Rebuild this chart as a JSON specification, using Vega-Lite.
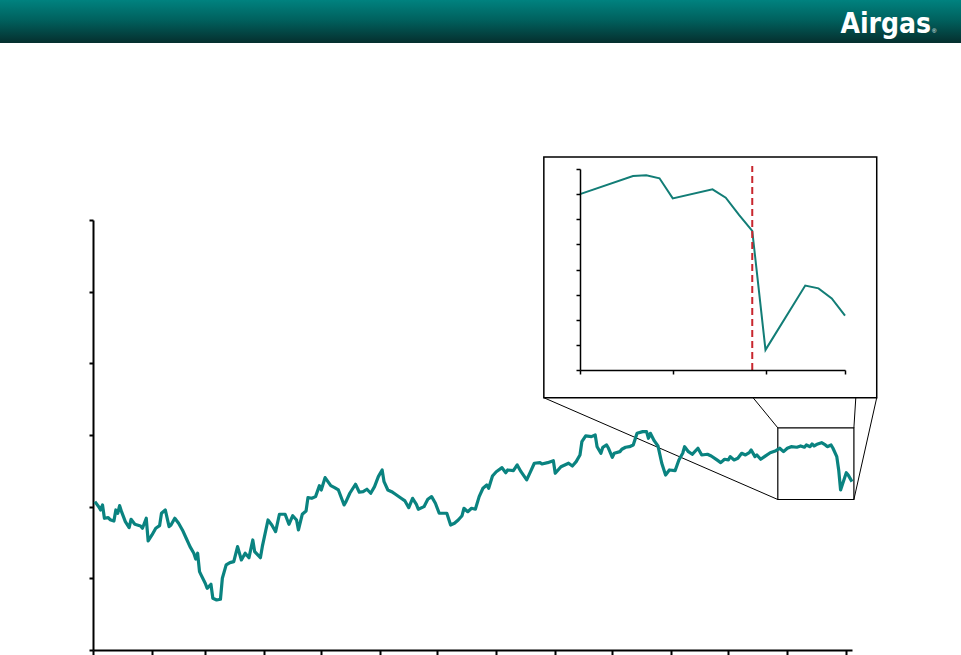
{
  "$schema": "https://vega.github.io/schema/vega-lite/v6.json",
  "autosize": {"type": "none"},
  "width": 759,
  "height": 430,
  "padding": {"left": 93, "top": 220, "right": 109, "bottom": 5},
  "background": "white",
  "config": {
    "view": {"stroke": null},
    "axis": {"grid": false, "labels": false, "title": null, "domainColor": "black", "tickColor": "black"}
  },
  "datasets": {
    "price": [
      {"date": "2009-01-02", "close": 40.70}, {"date": "2009-01-04", "close": 40.00}, {"date": "2009-01-05", "close": 39.54},
      {"date": "2009-01-06", "close": 40.24}, {"date": "2009-01-07", "close": 38.38}, {"date": "2009-01-09", "close": 38.47},
      {"date": "2009-01-10", "close": 38.19}, {"date": "2009-01-12", "close": 38.00}, {"date": "2009-01-13", "close": 39.54},
      {"date": "2009-01-14", "close": 39.08}, {"date": "2009-01-15", "close": 40.14}, {"date": "2009-01-16", "close": 39.30},
      {"date": "2009-01-18", "close": 37.91}, {"date": "2009-01-20", "close": 37.07}, {"date": "2009-01-21", "close": 38.24},
      {"date": "2009-01-23", "close": 37.54}, {"date": "2009-01-26", "close": 37.31}, {"date": "2009-01-27", "close": 36.99},
      {"date": "2009-01-29", "close": 38.38}, {"date": "2009-01-30", "close": 35.21}, {"date": "2009-02-01", "close": 36.05},
      {"date": "2009-02-03", "close": 36.99}, {"date": "2009-02-05", "close": 37.35}, {"date": "2009-02-06", "close": 39.08},
      {"date": "2009-02-08", "close": 39.54}, {"date": "2009-02-10", "close": 37.21}, {"date": "2009-02-11", "close": 37.45},
      {"date": "2009-02-13", "close": 38.38}, {"date": "2009-02-15", "close": 37.68}, {"date": "2009-02-17", "close": 36.75},
      {"date": "2009-02-19", "close": 35.59}, {"date": "2009-02-21", "close": 34.42}, {"date": "2009-02-23", "close": 33.50},
      {"date": "2009-02-24", "close": 32.70}, {"date": "2009-02-25", "close": 33.50}, {"date": "2009-02-26", "close": 30.93},
      {"date": "2009-02-27", "close": 30.37}, {"date": "2009-03-01", "close": 29.31}, {"date": "2009-03-02", "close": 28.61},
      {"date": "2009-03-04", "close": 29.17}, {"date": "2009-03-05", "close": 27.22}, {"date": "2009-03-07", "close": 26.98},
      {"date": "2009-03-09", "close": 27.08}, {"date": "2009-03-10", "close": 30.01}, {"date": "2009-03-12", "close": 31.87},
      {"date": "2009-03-14", "close": 32.19}, {"date": "2009-03-16", "close": 32.33}, {"date": "2009-03-18", "close": 34.42},
      {"date": "2009-03-20", "close": 32.56}, {"date": "2009-03-22", "close": 33.50}, {"date": "2009-03-24", "close": 32.88},
      {"date": "2009-03-26", "close": 35.35}, {"date": "2009-03-27", "close": 33.72}, {"date": "2009-03-30", "close": 32.88},
      {"date": "2009-03-31", "close": 34.42}, {"date": "2009-04-03", "close": 38.14}, {"date": "2009-04-05", "close": 37.45},
      {"date": "2009-04-07", "close": 36.51}, {"date": "2009-04-09", "close": 38.94}, {"date": "2009-04-12", "close": 38.94},
      {"date": "2009-04-14", "close": 37.54}, {"date": "2009-04-16", "close": 38.74}, {"date": "2009-04-18", "close": 38.14},
      {"date": "2009-04-19", "close": 36.75}, {"date": "2009-04-21", "close": 38.94}, {"date": "2009-04-23", "close": 39.40},
      {"date": "2009-04-24", "close": 41.26}, {"date": "2009-04-26", "close": 41.17}, {"date": "2009-04-28", "close": 41.40},
      {"date": "2009-04-30", "close": 42.93}, {"date": "2009-05-01", "close": 42.33}, {"date": "2009-05-03", "close": 44.05},
      {"date": "2009-05-06", "close": 42.93}, {"date": "2009-05-08", "close": 42.65}, {"date": "2009-05-10", "close": 42.33},
      {"date": "2009-05-13", "close": 40.24}, {"date": "2009-05-14", "close": 40.70}, {"date": "2009-05-16", "close": 41.87},
      {"date": "2009-05-19", "close": 43.13}, {"date": "2009-05-21", "close": 42.01}, {"date": "2009-05-23", "close": 42.09},
      {"date": "2009-05-25", "close": 42.43}, {"date": "2009-05-27", "close": 41.87}, {"date": "2009-05-29", "close": 42.79},
      {"date": "2009-05-31", "close": 44.19}, {"date": "2009-06-02", "close": 45.12}, {"date": "2009-06-03", "close": 43.49},
      {"date": "2009-06-05", "close": 42.33}, {"date": "2009-06-07", "close": 42.09}, {"date": "2009-06-09", "close": 41.73},
      {"date": "2009-06-12", "close": 41.17}, {"date": "2009-06-14", "close": 40.80}, {"date": "2009-06-16", "close": 39.86},
      {"date": "2009-06-18", "close": 41.17}, {"date": "2009-06-20", "close": 40.33}, {"date": "2009-06-21", "close": 39.64},
      {"date": "2009-06-24", "close": 40.00}, {"date": "2009-06-26", "close": 41.03}, {"date": "2009-06-28", "close": 41.40},
      {"date": "2009-06-30", "close": 40.47}, {"date": "2009-07-02", "close": 39.08}, {"date": "2009-07-06", "close": 39.08},
      {"date": "2009-07-08", "close": 37.44}, {"date": "2009-07-10", "close": 37.68}, {"date": "2009-07-12", "close": 38.14},
      {"date": "2009-07-14", "close": 38.74}, {"date": "2009-07-15", "close": 39.77}, {"date": "2009-07-17", "close": 39.30},
      {"date": "2009-07-19", "close": 39.77}, {"date": "2009-07-21", "close": 39.64}, {"date": "2009-07-23", "close": 41.40},
      {"date": "2009-07-25", "close": 42.57}, {"date": "2009-07-27", "close": 43.03}, {"date": "2009-07-28", "close": 42.57},
      {"date": "2009-07-30", "close": 44.28}, {"date": "2009-08-01", "close": 44.88}, {"date": "2009-08-04", "close": 45.44},
      {"date": "2009-08-06", "close": 44.74}, {"date": "2009-08-07", "close": 45.12}, {"date": "2009-08-10", "close": 45.02},
      {"date": "2009-08-12", "close": 45.82}, {"date": "2009-08-14", "close": 44.88}, {"date": "2009-08-17", "close": 43.73},
      {"date": "2009-08-19", "close": 44.88}, {"date": "2009-08-21", "close": 46.06}, {"date": "2009-08-24", "close": 46.14},
      {"date": "2009-08-25", "close": 45.96}, {"date": "2009-08-28", "close": 46.14}, {"date": "2009-08-31", "close": 46.42},
      {"date": "2009-09-01", "close": 44.66}, {"date": "2009-09-04", "close": 45.58}, {"date": "2009-09-06", "close": 45.82},
      {"date": "2009-09-08", "close": 46.06}, {"date": "2009-09-10", "close": 45.68}, {"date": "2009-09-12", "close": 46.28},
      {"date": "2009-09-14", "close": 47.21}, {"date": "2009-09-15", "close": 49.07}, {"date": "2009-09-17", "close": 49.87},
      {"date": "2009-09-20", "close": 49.77}, {"date": "2009-09-22", "close": 50.00}, {"date": "2009-09-23", "close": 48.37},
      {"date": "2009-09-25", "close": 47.45}, {"date": "2009-09-26", "close": 48.29}, {"date": "2009-09-28", "close": 48.61},
      {"date": "2009-09-29", "close": 48.15}, {"date": "2009-10-01", "close": 46.89}, {"date": "2009-10-02", "close": 47.45},
      {"date": "2009-10-05", "close": 47.68}, {"date": "2009-10-06", "close": 48.01}, {"date": "2009-10-08", "close": 48.29},
      {"date": "2009-10-10", "close": 48.37}, {"date": "2009-10-12", "close": 48.61}, {"date": "2009-10-14", "close": 50.24},
      {"date": "2009-10-17", "close": 50.47}, {"date": "2009-10-19", "close": 50.47}, {"date": "2009-10-20", "close": 49.54},
      {"date": "2009-10-21", "close": 50.24}, {"date": "2009-10-23", "close": 49.21}, {"date": "2009-10-25", "close": 48.47},
      {"date": "2009-10-27", "close": 46.06}, {"date": "2009-10-29", "close": 44.42}, {"date": "2009-10-31", "close": 45.12},
      {"date": "2009-11-03", "close": 45.02}, {"date": "2009-11-05", "close": 46.52}, {"date": "2009-11-07", "close": 47.45},
      {"date": "2009-11-08", "close": 48.37}, {"date": "2009-11-10", "close": 47.67}, {"date": "2009-11-12", "close": 47.31},
      {"date": "2009-11-15", "close": 48.15}, {"date": "2009-11-17", "close": 47.21}, {"date": "2009-11-20", "close": 47.31},
      {"date": "2009-11-22", "close": 47.07}, {"date": "2009-11-25", "close": 46.52}, {"date": "2009-11-27", "close": 46.14},
      {"date": "2009-11-29", "close": 46.61}, {"date": "2009-12-01", "close": 46.52}, {"date": "2009-12-02", "close": 46.98},
      {"date": "2009-12-04", "close": 46.52}, {"date": "2009-12-06", "close": 46.75}, {"date": "2009-12-08", "close": 47.45},
      {"date": "2009-12-10", "close": 47.21}, {"date": "2009-12-12", "close": 47.53}, {"date": "2009-12-13", "close": 47.91},
      {"date": "2009-12-15", "close": 46.98}, {"date": "2009-12-16", "close": 47.21}, {"date": "2009-12-18", "close": 46.61},
      {"date": "2009-12-20", "close": 46.98}, {"date": "2009-12-23", "close": 47.53}, {"date": "2009-12-26", "close": 47.81},
      {"date": "2009-12-28", "close": 48.15}, {"date": "2009-12-30", "close": 47.68}, {"date": "2010-01-01", "close": 48.15},
      {"date": "2010-01-03", "close": 48.37}, {"date": "2010-01-06", "close": 48.29}, {"date": "2010-01-08", "close": 48.47},
      {"date": "2010-01-10", "close": 48.29}, {"date": "2010-01-11", "close": 48.61}, {"date": "2010-01-13", "close": 48.37},
      {"date": "2010-01-14", "close": 48.75}, {"date": "2010-01-15", "close": 48.47}, {"date": "2010-01-17", "close": 48.75},
      {"date": "2010-01-19", "close": 48.93}, {"date": "2010-01-21", "close": 48.61}, {"date": "2010-01-22", "close": 48.37},
      {"date": "2010-01-24", "close": 48.61}, {"date": "2010-01-25", "close": 48.15}, {"date": "2010-01-27", "close": 46.98},
      {"date": "2010-01-28", "close": 45.12}, {"date": "2010-01-29", "close": 42.33}, {"date": "2010-02-01", "close": 44.74},
      {"date": "2010-02-02", "close": 44.42}, {"date": "2010-02-03", "close": 43.95}, {"date": "2010-02-04", "close": 43.49}
    ],
    "recent": [
      {"date": "2010-01-15", "close": 48.00}, {"date": "2010-01-19", "close": 48.72}, {"date": "2010-01-20", "close": 48.75},
      {"date": "2010-01-21", "close": 48.63}, {"date": "2010-01-22", "close": 47.83}, {"date": "2010-01-25", "close": 48.19},
      {"date": "2010-01-26", "close": 47.86}, {"date": "2010-01-27", "close": 47.17}, {"date": "2010-01-28", "close": 46.54},
      {"date": "2010-01-29", "close": 41.80}, {"date": "2010-02-01", "close": 44.36}, {"date": "2010-02-02", "close": 44.25},
      {"date": "2010-02-03", "close": 43.85}, {"date": "2010-02-04", "close": 43.16}
    ],
    "event": [{"date": "2010-01-28"}],
    "zoomWindow": [{"start": "2009-12-27", "end": "2010-02-05", "low": 41, "high": 51}],
    "insetFrame": [{"start": "2009-08-26", "end": "2010-02-17", "low": 55.2, "high": 88.8}],
    "callout": [
      {"segment": "a", "date": "2009-08-26", "close": 55.2}, {"segment": "a", "date": "2009-12-27", "close": 41},
      {"segment": "b", "date": "2010-02-17", "close": 55.2}, {"segment": "b", "date": "2010-02-05", "close": 41},
      {"segment": "c", "date": "2009-12-14", "close": 55.2}, {"segment": "c", "date": "2009-12-27", "close": 51},
      {"segment": "d", "date": "2010-02-06", "close": 55.2}, {"segment": "d", "date": "2010-02-05", "close": 51}
    ],
    "banner": [{"brand": "Airgas", "mark": "®"}]
  },
  "layer": [
    {
      "data": {"name": "banner"},
      "layer": [
        {
          "mark": {
            "type": "rect",
            "fill": {
              "gradient": "linear", "x1": 0, "y1": 0, "x2": 0, "y2": 1,
              "stops": [
                {"offset": 0, "color": "#00827f"},
                {"offset": 0.45, "color": "#00625f"},
                {"offset": 1, "color": "#052f2e"}
              ]
            }
          },
          "encoding": {
            "x": {"datum": 0, "type": "quantitative", "scale": {"domain": [0, 1], "range": [-93, 868]}, "axis": null},
            "x2": {"datum": 1},
            "y": {"datum": 0, "type": "quantitative", "scale": {"domain": [0, 1], "range": [-220, -177]}, "axis": null},
            "y2": {"datum": 1}
          }
        },
        {
          "mark": {"type": "text", "align": "right", "baseline": "alphabetic", "color": "white", "fontSize": 28, "fontWeight": "bold", "font": "Liberation Sans Narrow, DejaVu Sans Condensed, sans-serif"},
          "encoding": {
            "x": {"datum": 0.9688, "type": "quantitative"},
            "y": {"datum": 0.767, "type": "quantitative"},
            "text": {"field": "brand"}
          }
        },
        {
          "mark": {"type": "text", "align": "left", "baseline": "alphabetic", "color": "white", "fontSize": 6, "font": "Liberation Sans, sans-serif"},
          "encoding": {
            "x": {"datum": 0.9698, "type": "quantitative"},
            "y": {"datum": 0.767, "type": "quantitative"},
            "text": {"field": "mark"}
          }
        }
      ]
    },
    {
      "layer": [
        {
          "data": {"name": "insetFrame"},
          "mark": {"type": "rect", "fill": null, "stroke": "black", "strokeWidth": 1.5},
          "encoding": {
            "x": {"field": "start", "type": "temporal", "scale": {"type": "utc", "domain": [{"year": 2009, "month": 1, "date": 1, "utc": true}, {"year": 2010, "month": 2, "date": 4, "utc": true}]}},
            "x2": {"field": "end"},
            "y": {"field": "low", "type": "quantitative", "scale": {"domain": [20, 80]}},
            "y2": {"field": "high"}
          }
        },
        {
          "data": {"name": "callout"},
          "mark": {"type": "line", "color": "black", "strokeWidth": 1},
          "encoding": {
            "x": {"field": "date", "type": "temporal"},
            "y": {"field": "close", "type": "quantitative"},
            "detail": {"field": "segment"}
          }
        },
        {
          "data": {"name": "zoomWindow"},
          "mark": {"type": "rect", "fill": null, "stroke": "black", "strokeWidth": 1.2},
          "encoding": {
            "x": {"field": "start", "type": "temporal"},
            "x2": {"field": "end"},
            "y": {"field": "low", "type": "quantitative"},
            "y2": {"field": "high"}
          }
        },
        {
          "data": {"name": "price"},
          "mark": {"type": "line", "color": "#0a8380", "strokeWidth": 3.2, "strokeJoin": "round"},
          "encoding": {
            "x": {
              "field": "date", "type": "temporal",
              "scale": {"type": "utc", "domain": [{"year": 2009, "month": 1, "date": 1, "utc": true}, {"year": 2010, "month": 2, "date": 4, "utc": true}]},
              "axis": {"orient": "bottom", "tickCount": {"interval": "month", "step": 1}, "domainWidth": 2, "tickWidth": 2, "tickSize": 5}
            },
            "y": {
              "field": "close", "type": "quantitative",
              "scale": {"domain": [20, 80]},
              "axis": {"orient": "left", "values": [20, 30, 40, 50, 60, 70, 80], "domainWidth": 2, "tickWidth": 2, "tickSize": 4}
            }
          }
        }
      ]
    },
    {
      "layer": [
        {
          "data": {"name": "recent"},
          "mark": {"type": "line", "color": "#127d76", "strokeWidth": 2},
          "encoding": {
            "x": {
              "field": "date", "type": "temporal",
              "scale": {"type": "utc", "domain": [{"year": 2010, "month": 1, "date": 15, "utc": true}, {"year": 2010, "month": 2, "date": 4, "utc": true}], "range": [487, 752]},
              "axis": {
                "orient": "bottom", "offset": -280, "zindex": 1, "domainWidth": 1.5, "tickWidth": 1.5, "tickSize": 4,
                "values": [
                  {"year": 2010, "month": 1, "date": 15, "utc": true},
                  {"year": 2010, "month": 1, "date": 22, "utc": true},
                  {"year": 2010, "month": 1, "date": 29, "utc": true},
                  {"year": 2010, "month": 2, "date": 4, "utc": true}
                ]
              }
            },
            "y": {
              "field": "close", "type": "quantitative",
              "scale": {"domain": [41, 49], "range": [150, -51]},
              "axis": {"orient": "left", "offset": -487, "zindex": 1, "values": [41, 42, 43, 44, 45, 46, 47, 48, 49], "domainWidth": 1.5, "tickWidth": 1.5, "tickSize": 4}
            }
          }
        },
        {
          "data": {"name": "event"},
          "mark": {"type": "rule", "color": "#c8262e", "strokeWidth": 2, "strokeDash": [7, 4]},
          "encoding": {
            "x": {"field": "date", "type": "temporal"},
            "y": {"datum": 41},
            "y2": {"datum": 49.12}
          }
        }
      ]
    }
  ],
  "resolve": {
    "scale": {"x": "independent", "y": "independent"},
    "axis": {"x": "independent", "y": "independent"}
  }
}
